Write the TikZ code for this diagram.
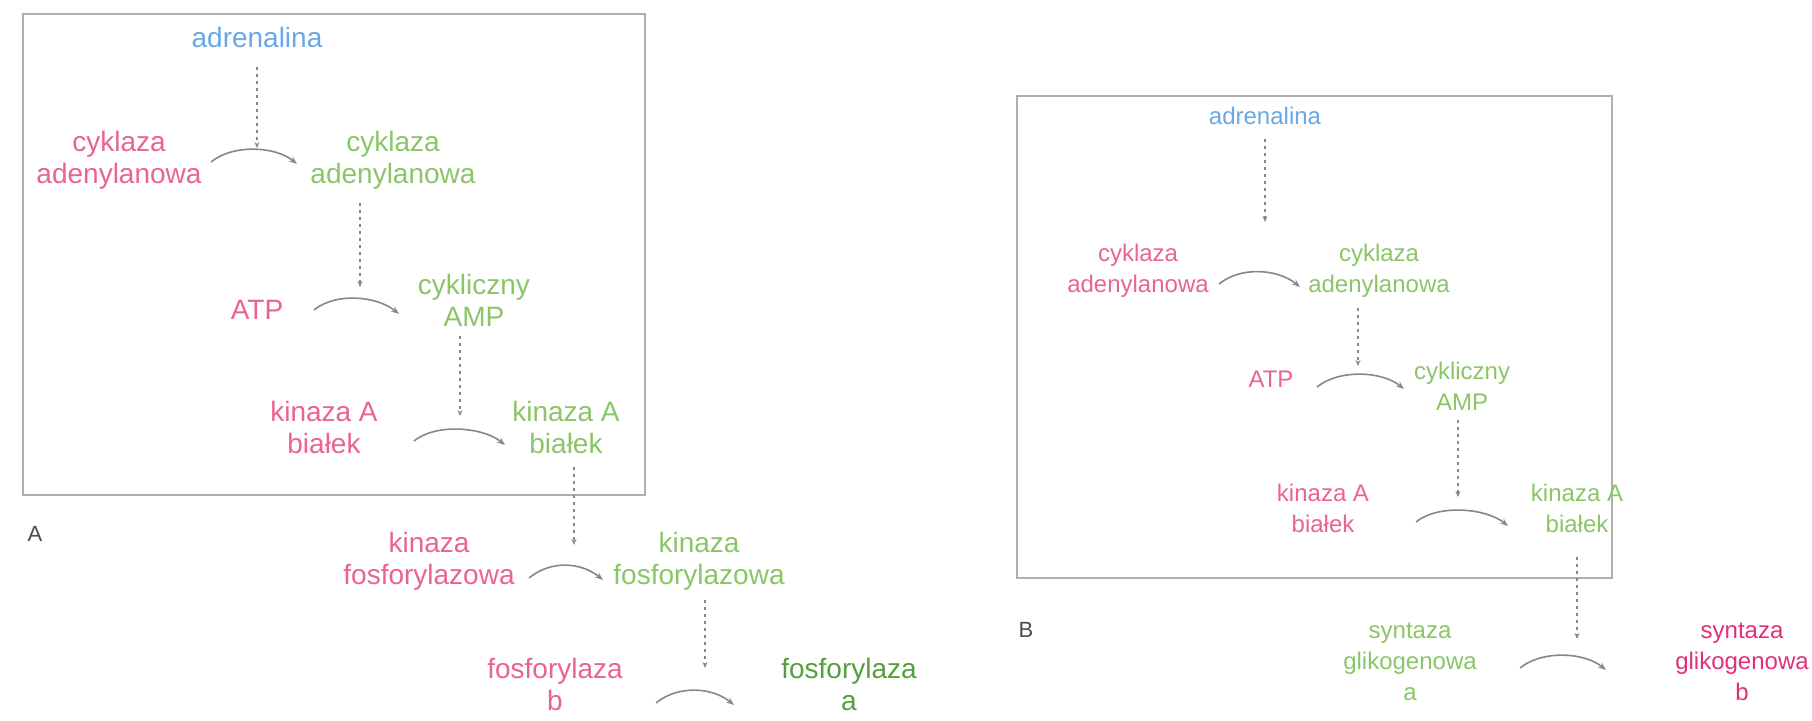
\documentclass[tikz,border=0pt]{standalone}
\usepackage{fontspec}
\setmainfont{Liberation Sans}
\usetikzlibrary{arrows.meta}
\definecolor{pinkc}{RGB}{234,100,142}
\definecolor{pinkd}{RGB}{226,48,118}
\definecolor{greenc}{RGB}{138,198,104}
\definecolor{greend}{RGB}{84,160,60}
\definecolor{bluec}{RGB}{104,168,228}
\definecolor{arrc}{RGB}{135,135,135}
\definecolor{boxc}{RGB}{175,175,175}
\tikzset{
  lbl/.style={align=center, inner sep=0pt, font=\fontsize{28}{32}\selectfont},
  lblb/.style={align=center, inner sep=0pt, font=\fontsize{24}{31}\selectfont},
  pk/.style={lbl, text=pinkc},
  gn/.style={lbl, text=greenc},
  bl/.style={lbl, text=bluec},
  gnd/.style={lbl, text=greend},
  pkb/.style={lblb, text=pinkc},
  gnb/.style={lblb, text=greenc},
  blb/.style={lblb, text=bluec},
  pkdb/.style={lblb, text=pinkd},
  panel/.style={draw=boxc, line width=2pt},
  curv/.style={draw=arrc, line width=1.6pt, -{Stealth[length=8pt,width=6pt]}},
  dots/.style={draw=arrc, line width=1.3pt, dash pattern=on 3pt off 4pt, -{Stealth[length=6pt,width=5pt]}},
  plab/.style={inner sep=0pt, text=black!70, font=\fontsize{22}{26}\selectfont}
}
\begin{document}
\begin{tikzpicture}[x=1pt,y=-1pt]
\path[use as bounding box, fill=white] (0,0) rectangle (1812,720);
% ---------- Panel A ----------
\draw[panel] (23,14) rectangle (645,495);
\node[bl]  (adrA)  at (257,37)  {adrenalina};
\node[pk]  (cpA)   at (119,160) {cyklaza\\adenylanowa};
\node[gn]  (cgA)   at (393,160) {cyklaza\\adenylanowa};
\node[pk]  (atpA)  at (257,310) {ATP};
\node[gn]  (campA) at (474,300) {cykliczny\\AMP};
\node[pk]  (kpA)   at (324,427) {kinaza A\\białek};
\node[gn]  (kgA)   at (566,427) {kinaza A\\białek};
\node[pk]  (kfpA)  at (429,561) {kinaza\\fosforylazowa};
\node[gn]  (kfgA)  at (699,561) {kinaza\\fosforylazowa};
\node[pk]  (fpA)   at (555,684) {fosforylaza\\b};
\node[gnd] (fgA)   at (849,684) {fosforylaza\\a};
\node[plab] (labA) at (35,534) {A};
% curve ends
\coordinate (a1s) at (211,162); \coordinate (a1e) at (297,164);
\coordinate (a2s) at (314,310); \coordinate (a2e) at (399,314);
\coordinate (a3s) at (414,441); \coordinate (a3e) at (505,445);
\coordinate (a4s) at (529,578); \coordinate (a4e) at (603,580);
\coordinate (a5s) at (656,703); \coordinate (a5e) at (734,705);
% dotted ends
\coordinate (t1) at (257,148);
\coordinate (t2) at (360,287);
\coordinate (t3) at (460,416);
\coordinate (t4) at (574,545);
\coordinate (t5) at (705,668);
\foreach \i in {1,...,5}{
  \draw[curv] (a\i s) .. controls ([shift={(22,-18)}]a\i s) and ([shift={(-22,-18)}]a\i e) .. (a\i e);
}
\draw[dots] ([yshift=-20pt]adrA.south) -- (t1);
\draw[dots] ([yshift=-14pt]cgA.south -| t2) -- (t2);
\draw[dots] ([yshift=-10pt]campA.south -| t3) -- (t3);
\draw[dots] ([yshift=-14pt]kgA.south -| t4) -- (t4);
\draw[dots] ([yshift=-10pt]kfgA.south -| t5) -- (t5);
% ---------- Panel B ----------
\draw[panel] (1017,96) rectangle (1612,578);
\node[blb]  (adrB)  at (1265,116) {adrenalina};
\node[pkb]  (cpB)   at (1138,271) {cyklaza\\adenylanowa};
\node[gnb]  (cgB)   at (1379,271) {cyklaza\\adenylanowa};
\node[pkb]  (atpB)  at (1271,379) {ATP};
\node[gnb]  (campB) at (1462,386) {cykliczny\\AMP};
\node[pkb]  (kpB)   at (1323,508) {kinaza A\\białek};
\node[gnb]  (kgB)   at (1577,508) {kinaza A\\białek};
\node[gnb]  (sgB)   at (1410,662) {syntaza\\glikogenowa\\a};
\node[pkdb] (spB)   at (1742,662) {syntaza\\glikogenowa\\b};
\node[plab] (labB) at (1026,630) {B};
\coordinate (b1s) at (1219,284); \coordinate (b1e) at (1300,287);
\coordinate (b2s) at (1317,387); \coordinate (b2e) at (1404,389);
\coordinate (b3s) at (1416,522); \coordinate (b3e) at (1508,526);
\coordinate (b4s) at (1520,668); \coordinate (b4e) at (1606,670);
\coordinate (u1) at (1265,222);
\coordinate (u2) at (1358,366);
\coordinate (u3) at (1458,497);
\coordinate (u4) at (1577,639);
\foreach \i in {1,...,4}{
  \draw[curv] (b\i s) .. controls ([shift={(22,-18)}]b\i s) and ([shift={(-22,-18)}]b\i e) .. (b\i e);
}
\draw[dots] ([yshift=-14pt]adrB.south) -- (u1);
\draw[dots] ([yshift=-10pt]cgB.south -| u2) -- (u2);
\draw[dots] ([yshift=-10pt]campB.south -| u3) -- (u3);
\draw[dots] ([yshift=-24pt]kgB.south -| u4) -- (u4);
\end{tikzpicture}
\end{document}
